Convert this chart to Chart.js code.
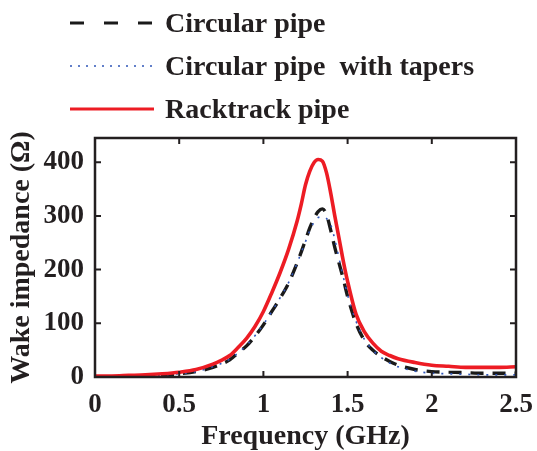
<!DOCTYPE html>
<html>
<head>
<meta charset="utf-8">
<script src="https://cdn.jsdelivr.net/npm/chart.js@4.4.0/dist/chart.umd.min.js"></script>
<style>
  html, body { margin: 0; padding: 0; background: #fff; }
  #wrap { width: 537px; height: 451px; }
</style>
</head>
<body>
<div id="wrap"><canvas id="wakeChart" width="537" height="451"></canvas></div>
<script>
// values (GHz, Ohm)
const frequency = [0, 0.1, 0.2, 0.3, 0.4, 0.5, 0.6, 0.7, 0.75, 0.8, 0.85, 0.9, 0.95, 1.0, 1.05, 1.1, 1.15, 1.2,
  1.225, 1.25, 1.275, 1.3, 1.325, 1.35, 1.375, 1.4, 1.425, 1.45, 1.475, 1.5, 1.55, 1.6, 1.65, 1.7, 1.75, 1.8,
  1.9, 2.0, 2.1, 2.2, 2.3, 2.4, 2.5];
const circularPipe = [0, 0.5, 1, 2, 4, 6, 10, 18, 24, 32, 45, 58, 76, 97, 122, 147, 175, 212,
  233, 255, 277, 295, 308, 313, 302, 273, 240, 211, 182, 150, 100, 68, 50, 38, 29, 22,
  14, 10, 9, 8, 7, 7, 7];
const circularTapers = [0, 0.5, 1, 2, 4, 6, 10, 19, 25, 33, 45, 59, 77, 98, 122, 148, 176, 212,
  232, 252, 272, 288, 297, 298, 295, 283, 255, 220, 186, 153, 104, 70, 50, 36, 26, 19,
  11, 7, 6, 5, 4, 4, 4];
const racetrackPipe = [2, 2, 3, 4, 6, 9, 14, 24, 31, 40, 55, 72, 94, 122, 157, 195, 238, 290,
  322, 358, 383, 399, 405, 402, 380, 342, 298, 257, 215, 178, 117, 84, 63, 48, 40, 34,
  27, 22, 20, 18, 18, 18, 19];

const seriesLabels = ['Circular pipe', 'Circular pipe  with tapers', 'Racktrack pipe'];
const xTickLabels = ['0', '0.5', '1', '1.5', '2', '2.5'];
const yTickLabels = ['0', '100', '200', '300', '400'];

const textColor = '#231f20';
const serif = '"Liberation Serif", "Times New Roman", serif';

function toPoints(ys) {
  return frequency.map((f, i) => ({ x: f, y: ys[i] }));
}

// box round the plot with inward ticks on all four sides
const framePlugin = {
  id: 'frame',
  afterDatasetsDraw(chart) {
    const { ctx, chartArea: a, scales: { x, y } } = chart;
    const tick = 6;
    ctx.save();
    ctx.strokeStyle = textColor;
    ctx.lineWidth = 2;
    ctx.beginPath();
    x.ticks.forEach(t => {
      const px = x.getPixelForValue(t.value);
      if (px <= a.left + 1 || px >= a.right - 1) return;
      ctx.moveTo(px, a.bottom); ctx.lineTo(px, a.bottom - tick);
      ctx.moveTo(px, a.top); ctx.lineTo(px, a.top + tick);
    });
    y.ticks.forEach(t => {
      const py = y.getPixelForValue(t.value);
      if (py >= a.bottom - 1 || py <= a.top + 1) return;
      ctx.moveTo(a.left, py); ctx.lineTo(a.left + tick, py);
      ctx.moveTo(a.right, py); ctx.lineTo(a.right - tick, py);
    });
    ctx.stroke();
    ctx.lineWidth = 2.5;
    ctx.strokeRect(a.left, a.top, a.right - a.left, a.bottom - a.top);
    ctx.restore();
  }
};

// legend stacked above the plot, as in the figure
const legendPlugin = {
  id: 'stackLegend',
  afterDraw(chart) {
    const { ctx } = chart;
    const baselines = [32, 75, 118];
    ctx.save();
    chart.data.datasets.forEach((ds, i) => {
      const ly = baselines[i] - 9;
      ctx.strokeStyle = ds.borderColor;
      ctx.lineWidth = ds.legendWidth;
      ctx.setLineDash(ds.legendDash);
      ctx.beginPath();
      ctx.moveTo(70, ly);
      ctx.lineTo(154, ly);
      ctx.stroke();
      ctx.setLineDash([]);
      ctx.fillStyle = textColor;
      ctx.font = 'bold 28px ' + serif;
      ctx.textBaseline = 'alphabetic';
      ctx.textAlign = 'left';
      ctx.fillText(ds.label, 165, baselines[i]);
    });
    ctx.restore();
  }
};

new Chart(document.getElementById('wakeChart'), {
  type: 'line',
  data: {
    datasets: [
      {
        label: seriesLabels[0],
        data: toPoints(circularPipe),
        borderColor: '#1a1a1a',
        borderWidth: 3.4,
        borderDash: [13, 9],
        legendDash: [14, 20],
        legendWidth: 3,
        order: 2
      },
      {
        label: seriesLabels[1],
        data: toPoints(circularTapers),
        borderColor: '#2f55b8',
        borderWidth: 1.6,
        borderDash: [2, 7],
        legendDash: [2, 6],
        legendWidth: 1.6,
        order: 1
      },
      {
        label: seriesLabels[2],
        data: toPoints(racetrackPipe),
        borderColor: '#ed1c24',
        borderWidth: 3.6,
        borderDash: [],
        legendDash: [],
        legendWidth: 3,
        order: 0
      }
    ]
  },
  options: {
    responsive: false,
    animation: false,
    layout: { padding: { top: 138, right: 21, left: 0, bottom: 0 } },
    elements: {
      point: { radius: 0 },
      line: { cubicInterpolationMode: 'monotone', fill: false }
    },
    plugins: {
      legend: { display: false },
      tooltip: { enabled: false }
    },
    scales: {
      x: {
        type: 'linear',
        min: 0,
        max: 2.5,
        grid: { display: false, drawTicks: false },
        border: { display: false },
        ticks: {
          stepSize: 0.5,
          padding: 12,
          color: textColor,
          font: { family: serif, size: 27, weight: 'bold' },
          maxRotation: 0,
          callback: (v) => xTickLabels[Math.round(v / 0.5)]
        },
        title: {
          display: true,
          text: 'Frequency (GHz)',
          color: textColor,
          font: { family: serif, size: 28, weight: 'bold', lineHeight: 1 },
          padding: { top: 0, bottom: 0 }
        },
        afterFit(scale) {
          scale.height = 74;
          scale.paddingLeft = 0;
          scale.paddingRight = 0;
        }
      },
      y: {
        min: 0,
        max: 445,
        grid: { display: false, drawTicks: false },
        border: { display: false },
        afterBuildTicks(scale) {
          scale.ticks = scale.ticks.filter(t => t.value % 100 === 0);
        },
        ticks: {
          stepSize: 100,
          includeBounds: false,
          padding: 11,
          color: textColor,
          font: { family: serif, size: 27, weight: 'bold' },
          callback: (v) => yTickLabels[v / 100]
        },
        title: {
          display: true,
          text: 'Wake impedance (Ω)',
          color: textColor,
          font: { family: serif, size: 28, weight: 'bold', lineHeight: 1 },
          padding: { top: 8, bottom: 0 }
        },
        afterFit(scale) {
          scale.width = 95;
          scale.paddingTop = 0;
          scale.paddingBottom = 0;
        }
      }
    }
  },
  plugins: [framePlugin, legendPlugin]
});
</script>
</body>
</html>
